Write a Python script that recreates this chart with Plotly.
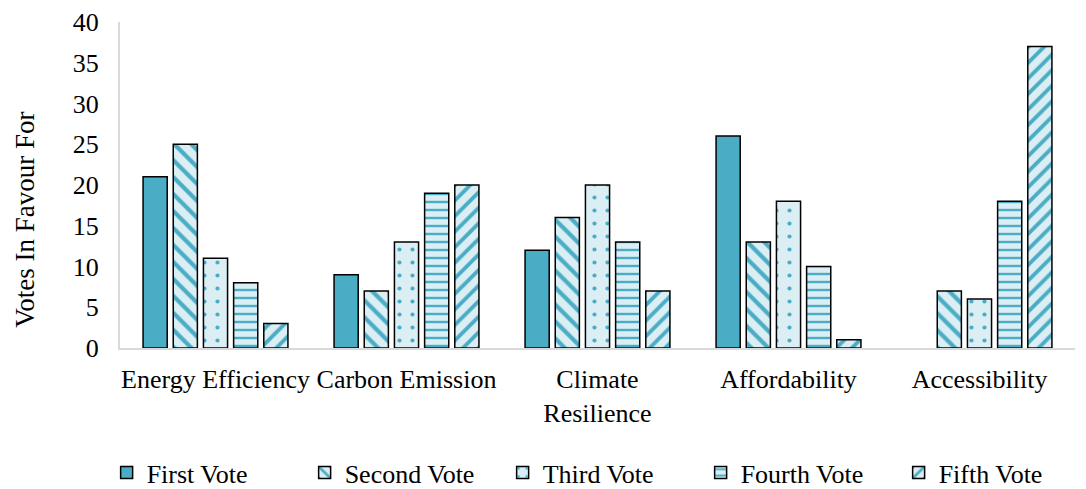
import plotly.graph_objects as go

categories = ["Energy Efficiency", "Carbon Emission", "Climate<br>Resilience", "Affordability", "Accessibility"]
series_names = ["First Vote", "Second Vote", "Third Vote", "Fourth Vote", "Fifth Vote"]
first_vote = [21, 9, 12, 26, 0]
second_vote = [25, 7, 16, 13, 7]
third_vote = [11, 13, 20, 18, 6]
fourth_vote = [8, 19, 13, 10, 18]
fifth_vote = [3, 20, 7, 1, 37]
y_title = "Votes In Favour For"

all_values = [first_vote, second_vote, third_vote, fourth_vote, fifth_vote]
shapes = ["", "\\", ".", "-", "/"]
sizes = [8, 12, 13, 8, 11]
solidity = [0.3, 0.35, 0.08, 0.3, 0.35]

teal = "#4BACC6"
light = "#DAEEF3"
FONT = "Liberation Serif, Times New Roman, serif"
FS = 26

fig = go.Figure()
for name, vals, shp, sz, sol in zip(series_names, all_values, shapes, sizes, solidity):
    lw = [1.5 if v > 0 else 0 for v in vals]
    if shp == "":
        marker = dict(color=teal, line=dict(color="black", width=lw))
    else:
        marker = dict(color=light, line=dict(color="black", width=lw),
                      pattern=dict(shape=shp, fgcolor=teal, bgcolor=light, size=sz,
                                   solidity=sol, fillmode="replace"))
    fig.add_trace(go.Bar(x=categories, y=vals, name=name, marker=marker))

fig.add_annotation(text=y_title, xref="paper", yref="paper", x=-0.0995, y=0.393,
                   textangle=-90, showarrow=False, xanchor="center", yanchor="middle",
                   font=dict(size=FS + 1, family=FONT, color="black"))

fig.update_layout(
    width=1086, height=489,
    barmode="group", bargap=0.21, bargroupgap=0.2,
    plot_bgcolor="white", paper_bgcolor="white",
    margin=dict(l=120, r=11, t=22, b=141, autoexpand=False),
    font=dict(family=FONT, size=FS, color="black"),
    legend=dict(orientation="h", xref="paper", x=-0.014, xanchor="left",
                yref="paper", y=-0.382, yanchor="middle",
                font=dict(size=FS), itemwidth=30, traceorder="normal",
                entrywidth=153, entrywidthmode="pixels"),
    xaxis=dict(showline=True, linecolor="#D9D9D9", linewidth=2, ticks="",
               tickfont=dict(size=FS), showgrid=False, automargin=False, tickangle=0,
               ticklabelstandoff=7),
    yaxis=dict(range=[0, 40], dtick=5, showline=True, linecolor="#D9D9D9", linewidth=2,
               showgrid=False, zeroline=False, ticks="", tickfont=dict(size=FS),
               automargin=False, ticklabelstandoff=14),
)

fig.write_html("out.html")
